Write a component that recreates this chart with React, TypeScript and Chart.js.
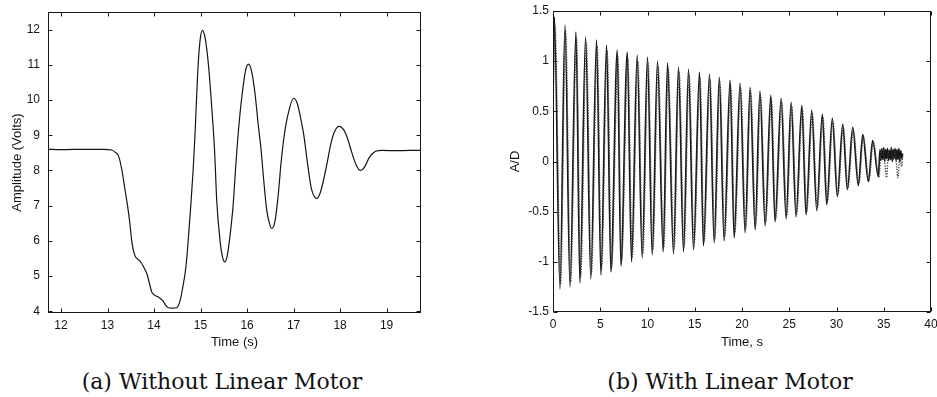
import React, { useEffect, useRef } from 'react';
import { Chart, registerables } from 'chart.js';

Chart.register(...registerables);

// ---------- Panel (a): without linear motor ----------
const leftTimes = [
  11.72, 12.0, 12.5, 12.9, 13.09, 13.16, 13.24, 13.31, 13.37, 13.43, 13.48, 13.52, 13.56, 13.6, 13.65,
  13.7, 13.78, 13.85, 13.9, 13.95, 14.02, 14.1, 14.2, 14.26, 14.31, 14.4, 14.49, 14.56, 14.62, 14.67,
  14.71, 14.74, 14.79, 14.84, 14.88, 14.94, 14.99, 15.04, 15.1, 15.17, 15.24, 15.3, 15.35, 15.42, 15.47,
  15.52, 15.57, 15.62, 15.7, 15.75, 15.8, 15.88, 15.97, 16.03, 16.1, 16.17, 16.24, 16.3, 16.36, 16.42,
  16.47, 16.53, 16.6, 16.67, 16.73, 16.8, 16.9, 17.0, 17.08, 17.15, 17.22, 17.3, 17.38, 17.45, 17.5,
  17.57, 17.64, 17.72, 17.8, 17.88, 17.98, 18.08, 18.15, 18.22, 18.29, 18.36, 18.43, 18.5, 18.56, 18.62,
  18.7, 18.78, 18.9, 19.2, 19.5, 19.74,
];
const leftAmps = [
  8.6, 8.59, 8.6, 8.6, 8.58, 8.52, 8.4, 8.0, 7.5, 7.0, 6.5, 6.0, 5.7, 5.55, 5.48,
  5.42, 5.25, 5.05, 4.8, 4.55, 4.45, 4.4, 4.28, 4.15, 4.1, 4.09, 4.1, 4.3, 4.7, 5.1,
  5.6, 6.1, 7.0, 8.0, 9.0, 10.8, 11.7, 11.98, 11.75, 11.0, 9.8, 8.6, 7.1, 6.0, 5.55,
  5.4, 5.55, 6.0, 7.0, 8.0, 8.9, 10.0, 10.85, 11.02, 10.8, 10.2, 9.3, 8.6, 7.7, 6.9,
  6.55, 6.35, 6.55, 7.3, 8.2, 9.0, 9.7, 10.05, 9.9, 9.5, 9.0, 8.2, 7.5, 7.25, 7.2,
  7.35, 7.7, 8.2, 8.75, 9.1, 9.25, 9.15, 8.95, 8.65, 8.35, 8.12, 8.0, 8.05, 8.18, 8.35,
  8.48, 8.55, 8.57, 8.56, 8.57, 8.57,
];
const leftXTicks = { min: 11.72, max: 19.74, step: 1 };
const leftYTicks = { min: 3.95, max: 12.5, step: 1 };

// ---------- Panel (b): with linear motor ----------
const solidTimes = [
  0.0, 0.14, 0.74, 1.27, 1.8, 2.43, 2.85, 3.45, 4.0, 4.61, 5.07, 5.67, 6.13, 6.8, 7.19, 7.86, 8.31,
  8.91, 9.44, 10.0, 10.5, 11.06, 11.66, 12.12, 12.75, 13.28, 13.81, 14.34, 14.87, 15.5, 15.92, 16.56,
  17.06, 17.6, 18.11, 18.74, 19.17, 19.8, 20.33, 20.86, 21.39, 21.9, 22.45, 23.05, 23.5, 24.14, 24.67,
  25.2, 25.72, 26.33, 26.78, 27.38, 27.91, 28.5, 28.97, 29.56, 30.09, 30.66, 31.15, 31.72, 32.31,
  32.78, 33.37, 33.83, 34.43,
  34.6, 34.7, 34.8, 34.9, 35.0, 35.1, 35.2, 35.3, 35.4, 35.5, 35.6, 35.7, 35.8, 35.9, 36.0, 36.1,
  36.2, 36.3, 36.4, 36.5, 36.6, 36.7, 36.8, 36.9, 37.0,
];
const solidValues = [
  0.6, 1.44, -1.27, 1.36, -1.25, 1.29, -1.21, 1.24, -1.17, 1.21, -1.13, 1.16, -1.1, 1.11, -1.04, 1.09, -1.0,
  1.06, -0.96, 1.04, -0.93, 1.0, -0.9, 0.98, -0.92, 0.94, -0.9, 0.92, -0.88, 0.89, -0.84, 0.87,
  -0.81, 0.84, -0.79, 0.81, -0.76, 0.78, -0.71, 0.74, -0.68, 0.7, -0.64, 0.66, -0.6, 0.63, -0.57,
  0.59, -0.55, 0.56, -0.53, 0.51, -0.49, 0.47, -0.43, 0.43, -0.35, 0.37, -0.28, 0.34, -0.24,
  0.27, -0.2, 0.21, -0.15,
  0.12, 0.01, 0.13, 0.02, 0.14, 0.0, 0.12, 0.03, 0.13, 0.01, 0.11, 0.02, 0.14, 0.0, 0.12, 0.03,
  0.13, 0.01, 0.12, 0.02, 0.13, 0.0, 0.11, 0.03, 0.08,
];
const dottedTimes = [
  0.0, 0.2, 0.8, 1.33, 1.86, 2.48, 2.92, 3.52, 4.06, 4.67, 5.13, 5.73, 6.2, 6.86, 7.25, 7.92, 8.38,
  8.97, 9.5, 10.06, 10.57, 11.12, 11.72, 12.18, 12.81, 13.34, 13.87, 14.4, 14.93, 15.56, 15.98, 16.62,
  17.12, 17.66, 18.17, 18.8, 19.23, 19.86, 20.39, 20.92, 21.45, 21.96, 22.51, 23.11, 23.56, 24.2, 24.73,
  25.26, 25.78, 26.39, 26.84, 27.44, 27.97, 28.56, 29.03, 29.62, 30.15, 30.72, 31.21, 31.78, 32.37,
  32.84, 33.43, 33.89, 34.49,
  34.7, 34.9, 35.1, 35.3, 35.5, 35.8, 36.0, 36.2, 36.5, 36.7, 36.9, 37.0,
];
const dottedValues = [
  0.5, 1.36, -1.22, 1.3, -1.2, 1.23, -1.15, 1.18, -1.12, 1.15, -1.08, 1.1, -1.05, 1.05, -0.99, 1.03, -0.95,
  1.0, -0.92, 0.98, -0.88, 0.95, -0.86, 0.93, -0.87, 0.9, -0.85, 0.87, -0.83, 0.84, -0.8, 0.82,
  -0.77, 0.79, -0.75, 0.76, -0.72, 0.73, -0.67, 0.7, -0.64, 0.66, -0.6, 0.62, -0.57, 0.59, -0.54,
  0.55, -0.52, 0.52, -0.5, 0.48, -0.46, 0.44, -0.4, 0.4, -0.33, 0.34, -0.26, 0.31, -0.22,
  0.25, -0.19, 0.19, -0.16,
  0.08, 0.12, 0.0, -0.16, 0.1, 0.12, 0.02, 0.1, -0.16, 0.05, -0.05, 0.05,
];
const rightXTicks = { min: 0, max: 40, step: 5 };
const rightYTicks = { min: -1.5, max: 1.5, step: 0.5 };

const captions = ['(a) Without Linear Motor', '(b) With Linear Motor'];

const SANS = "'Liberation Sans', Arial, sans-serif";
const INK = '#151515';

function toPoints(xs: number[], ys: number[]) {
  const n = Math.min(xs.length, ys.length);
  const out: { x: number; y: number }[] = [];
  for (let i = 0; i < n; i++) out.push({ x: xs[i], y: ys[i] });
  return out;
}

const fmt = (v: any) => String(Math.round(Number(v) * 100) / 100);

const boxPlugin = {
  id: 'matlabBox',
  afterDraw(chart: any) {
    const { ctx, chartArea: a, scales } = chart;
    const L = Math.round(a.left) + 0.5;
    const R = Math.round(a.right) - 0.5;
    const T = Math.round(a.top) + 0.5;
    const B = Math.round(a.bottom) - 0.5;
    const len = 4;
    ctx.save();
    ctx.strokeStyle = INK;
    ctx.lineWidth = 1;
    ctx.strokeRect(L, T, R - L, B - T);
    ctx.beginPath();
    for (const t of scales.x.ticks) {
      const px = Math.round(scales.x.getPixelForValue(t.value)) + 0.5;
      ctx.moveTo(px, B);
      ctx.lineTo(px, B - len);
      ctx.moveTo(px, T);
      ctx.lineTo(px, T + len);
    }
    for (const t of scales.y.ticks) {
      const py = Math.round(scales.y.getPixelForValue(t.value)) + 0.5;
      ctx.moveTo(L, py);
      ctx.lineTo(L + len, py);
      ctx.moveTo(R, py);
      ctx.lineTo(R - len, py);
    }
    ctx.stroke();
    ctx.restore();
  },
};

type PanelSpec = {
  datasets: any[];
  xr: { min: number; max: number; step: number };
  yr: { min: number; max: number; step: number };
  xTitle: string;
  yTitle: string;
  padTop: number;
  padRight: number;
  yWidth: number;
  xHeight: number;
  yTickPad: number;
  yTitlePad: number;
};

function buildConfig(p: PanelSpec): any {
  const tickFont = { family: SANS, size: 12 };
  const titleFont = { family: SANS, size: 13 };
  return {
    type: 'line',
    data: { datasets: p.datasets },
    options: {
      responsive: false,
      animation: false,
      events: [],
      layout: { padding: { top: p.padTop, right: p.padRight, left: 0, bottom: 0 } },
      plugins: { legend: { display: false }, tooltip: { enabled: false } },
      scales: {
        x: {
          type: 'linear',
          min: p.xr.min,
          max: p.xr.max,
          grid: { display: false, drawTicks: false },
          border: { display: false },
          ticks: {
            stepSize: p.xr.step,
            includeBounds: false,
            autoSkip: false,
            maxRotation: 0,
            padding: 5,
            color: INK,
            font: tickFont,
            callback: fmt,
          },
          title: { display: true, text: p.xTitle, color: INK, font: titleFont, padding: { top: 0, bottom: 10 } },
          afterFit: (s: any) => {
            s.height = p.xHeight;
            s.paddingLeft = 0;
            s.paddingRight = 0;
          },
        },
        y: {
          type: 'linear',
          min: p.yr.min,
          max: p.yr.max,
          grid: { display: false, drawTicks: false },
          border: { display: false },
          ticks: {
            stepSize: p.yr.step,
            includeBounds: false,
            autoSkip: false,
            padding: p.yTickPad,
            color: INK,
            font: tickFont,
            callback: fmt,
          },
          title: { display: true, text: p.yTitle, color: INK, font: titleFont, padding: { top: p.yTitlePad, bottom: 0 } },
          afterFit: (s: any) => {
            s.width = p.yWidth;
            s.paddingTop = 0;
            s.paddingBottom = 0;
          },
        },
      },
    },
    plugins: [boxPlugin],
  };
}

function Panel({ spec, left, width, height }: { spec: PanelSpec; left: number; width: number; height: number }) {
  const ref = useRef<HTMLCanvasElement | null>(null);
  useEffect(() => {
    if (!ref.current) return;
    const chart = new Chart(ref.current, buildConfig(spec));
    return () => chart.destroy();
  }, []);
  return (
    <canvas
      ref={ref}
      width={width}
      height={height}
      style={{ position: 'absolute', left, top: 0, width, height }}
    />
  );
}

const leftSpec: PanelSpec = {
  datasets: [
    {
      data: toPoints(leftTimes, leftAmps),
      borderColor: INK,
      borderWidth: 1.2,
      pointRadius: 0,
      fill: false,
      cubicInterpolationMode: 'monotone',
    },
  ],
  xr: leftXTicks,
  yr: leftYTicks,
  xTitle: 'Time (s)',
  yTitle: 'Amplitude (Volts)',
  padTop: 12,
  padRight: 49,
  yWidth: 48,
  xHeight: 47,
  yTickPad: 8,
  yTitlePad: 10,
};

const rightSpec: PanelSpec = {
  datasets: [
    {
      data: toPoints(dottedTimes, dottedValues),
      borderColor: '#3a3a3a',
      borderWidth: 1.4,
      borderDash: [1.2, 1.4],
      pointRadius: 0,
      fill: false,
      cubicInterpolationMode: 'monotone',
    },
    {
      data: toPoints(solidTimes, solidValues),
      borderColor: INK,
      borderWidth: 1.6,
      pointRadius: 0,
      fill: false,
      cubicInterpolationMode: 'monotone',
    },
  ],
  xr: rightXTicks,
  yr: rightYTicks,
  xTitle: 'Time, s',
  yTitle: 'A/D',
  padTop: 11,
  padRight: 6,
  yWidth: 83,
  xHeight: 48,
  yTickPad: 4,
  yTitlePad: 38,
};

export default function App() {
  const captionStyle = (cx: number): React.CSSProperties => ({
    position: 'absolute',
    left: cx - 200,
    width: 400,
    top: 369,
    textAlign: 'center',
    fontFamily: "'DejaVu Serif', 'Liberation Serif', serif",
    fontSize: 22,
    lineHeight: '26px',
    color: '#111',
    whiteSpace: 'nowrap',
  });
  return (
    <div style={{ position: 'absolute', left: 0, top: 0, width: 937, height: 397, background: '#fff', overflow: 'hidden' }}>
      <Panel spec={leftSpec} left={0} width={470} height={360} />
      <Panel spec={rightSpec} left={470} width={467} height={360} />
      <div style={captionStyle(222)}>{captions[0]}</div>
      <div style={captionStyle(730)}>{captions[1]}</div>
    </div>
  );
}
